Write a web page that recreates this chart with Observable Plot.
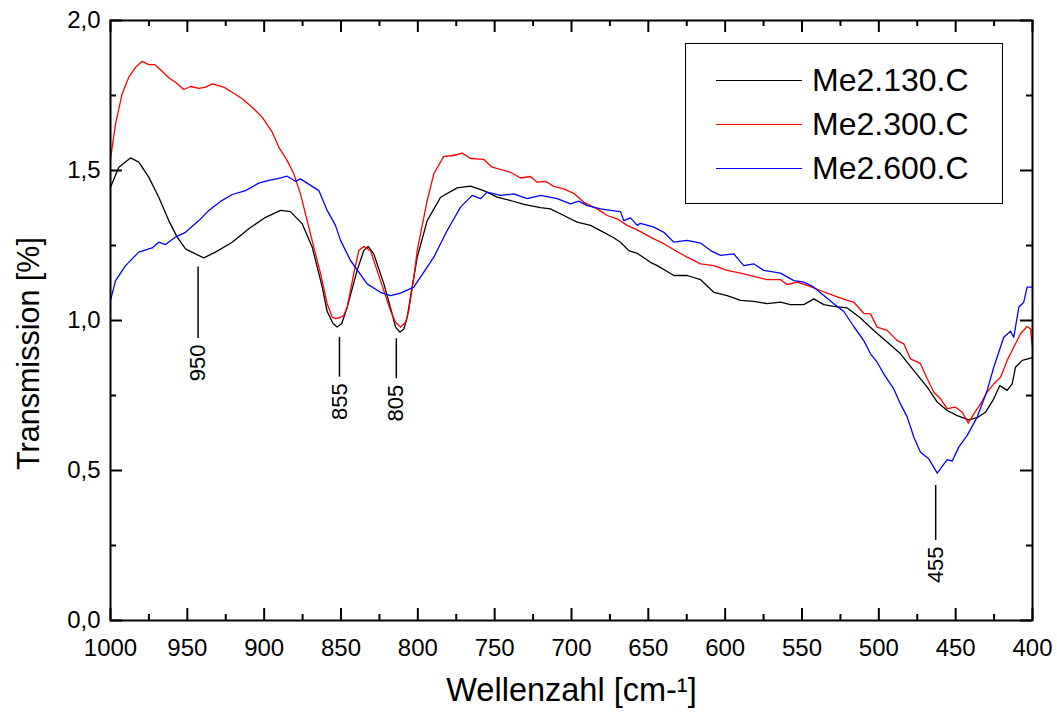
<!DOCTYPE html>
<html>
<head>
<meta charset="utf-8">
<script src="https://cdn.jsdelivr.net/npm/d3@7"></script>
<script src="https://cdn.jsdelivr.net/npm/@observablehq/plot@0.6"></script>
<style>
  body { margin: 0; background: #fff; font-family: "Liberation Sans", Arial, sans-serif; }
  #wrap { position: relative; width: 1057px; height: 719px; }
  #legend { position: absolute; left: 685px; top: 43px; width: 318px; height: 161px;
            border: 1.5px solid #000; box-sizing: border-box; background: #fff; }
  .row { position: absolute; left: 0; width: 100%; height: 0; }
  .swatch { position: absolute; left: 30px; width: 86px; top: 0; border-top: 1.3px solid; }
  .lab { position: absolute; left: 126px; top: -19px; font-size: 32px; line-height: 38px; white-space: nowrap; color: #000; }
</style>
</head>
<body>
<div id="wrap"></div>
<script>
// IR transmission spectra, wavenumber axis runs from 1000 down to 400 cm-1
const seriesNames = ["Me2.130.C", "Me2.300.C", "Me2.600.C"];
const seriesColors = ["#000000", "#ff0000", "#0000ff"];

// [wavenumber, transmission]
const me130 = [[1000,1.444],[994.6,1.511],[987,1.542],[981.6,1.528],[975.1,1.478],[968.6,1.411],[962.1,1.333],[956.6,1.278],[951.2,1.239],[944.7,1.222],[939.3,1.209],[931.7,1.228],[920.8,1.261],[910,1.306],[899.1,1.344],[889.4,1.367],[882.9,1.363],[875.2,1.322],[868.7,1.244],[862.2,1.111],[859,1.03],[855.2,0.99],[852.5,0.978],[849.5,0.99],[846,1.044],[839.5,1.167],[835.2,1.233],[832.3,1.247],[828.7,1.222],[822.1,1.122],[816.7,1.022],[814.5,0.978],[811.7,0.961],[809.1,0.972],[806.9,1.011],[804.8,1.078],[800.4,1.211],[793.9,1.333],[785.2,1.411],[774.4,1.442],[765.7,1.448],[757.1,1.433],[748.4,1.411],[739.7,1.4],[731,1.387],[720.2,1.376],[713.7,1.372],[705,1.35],[696.3,1.328],[687.6,1.317],[679,1.294],[672.5,1.276],[668.1,1.261],[662.7,1.233],[657.2,1.224],[648.6,1.194],[644.2,1.183],[633.4,1.15],[624.7,1.15],[616,1.136],[607.4,1.094],[598.7,1.083],[590,1.067],[581.4,1.064],[572.6,1.056],[564,1.061],[557.5,1.053],[548.8,1.053],[542.3,1.072],[535.8,1.053],[529.3,1.047],[520.6,1.042],[511.9,1.008],[503.3,0.967],[494.6,0.928],[485.9,0.889],[477.2,0.833],[468.5,0.778],[462,0.728],[455.5,0.7],[449,0.683],[441.4,0.669],[436,0.676],[430.6,0.694],[425.2,0.739],[421.3,0.783],[416.5,0.767],[413.2,0.789],[411.1,0.844],[406.7,0.867],[400,0.876]];

const me300 = [[1000,1.539],[996.7,1.656],[992.4,1.756],[988.1,1.811],[983.7,1.844],[979.4,1.864],[975.1,1.853],[971.2,1.853],[966.4,1.831],[962.1,1.809],[957.7,1.794],[952.3,1.77],[947.9,1.78],[942.5,1.774],[938.2,1.778],[933.8,1.789],[926.3,1.778],[920.8,1.761],[914.3,1.739],[907.8,1.711],[901.3,1.678],[894.8,1.628],[890.5,1.578],[885,1.533],[880.7,1.489],[876.4,1.422],[872,1.333],[867.7,1.244],[863.3,1.156],[859,1.056],[855.7,1.011],[853.6,1.006],[850.5,1.01],[848.2,1.017],[846,1.044],[841.7,1.156],[838.4,1.233],[835.2,1.247],[830.8,1.233],[824.3,1.133],[817.8,1.033],[814.5,0.994],[811.3,0.978],[808,0.994],[805.9,1.033],[802.6,1.144],[800.4,1.233],[793.9,1.4],[789.6,1.489],[783.1,1.547],[776.6,1.55],[771.1,1.558],[765.7,1.54],[757.1,1.537],[751.6,1.511],[739.7,1.494],[733.2,1.475],[726.7,1.48],[722.3,1.461],[716.9,1.464],[711.5,1.447],[705,1.439],[698.5,1.424],[692,1.394],[683.3,1.372],[676.8,1.35],[670.3,1.339],[663.8,1.317],[657.2,1.302],[646.4,1.272],[639.9,1.256],[633.4,1.236],[624.7,1.211],[616,1.189],[607.4,1.183],[598.7,1.167],[590,1.158],[581.4,1.147],[572.6,1.136],[564,1.136],[559.6,1.12],[553.1,1.128],[546.6,1.117],[538,1.1],[529.3,1.083],[520.6,1.067],[516.3,1.061],[509.8,1.024],[505.4,1.022],[501.1,0.978],[494.6,0.967],[488,0.933],[483.7,0.922],[479.4,0.872],[472.9,0.856],[468.5,0.806],[464.2,0.761],[459.9,0.739],[455.5,0.706],[450.1,0.711],[445.7,0.694],[441.8,0.658],[438.2,0.689],[433.8,0.722],[429.5,0.761],[425.2,0.789],[420.8,0.811],[416.5,0.867],[412.2,0.911],[407.8,0.956],[403.5,0.98],[401.3,0.972],[400,0.911]];

const me600 = [[1000,1.067],[996.7,1.133],[990.2,1.183],[981.6,1.228],[972.9,1.242],[968.6,1.261],[964.2,1.253],[957.7,1.278],[951.2,1.294],[942.5,1.333],[936,1.367],[928.4,1.397],[920.8,1.42],[912.1,1.433],[903.5,1.458],[897,1.467],[890.5,1.474],[885,1.481],[879.6,1.464],[876.4,1.472],[864.4,1.433],[859,1.367],[853.6,1.317],[850.3,1.267],[843.8,1.2],[833,1.122],[824.3,1.094],[817.8,1.083],[811.3,1.091],[802.6,1.111],[789.6,1.211],[780.9,1.3],[772.2,1.378],[764.6,1.417],[759.2,1.406],[754.9,1.428],[746.2,1.417],[737.5,1.422],[728.8,1.406],[720.2,1.417],[709.3,1.406],[700.7,1.389],[695.2,1.398],[689.8,1.383],[681.1,1.372],[674.6,1.367],[668.1,1.363],[666,1.333],[661.6,1.342],[657.2,1.317],[655.1,1.324],[646.4,1.311],[639.9,1.294],[633.4,1.261],[624.7,1.267],[616,1.258],[609.5,1.233],[603,1.217],[594.4,1.222],[587.9,1.183],[581.4,1.189],[574.9,1.167],[564,1.158],[555.3,1.133],[548.8,1.128],[542.3,1.111],[535.8,1.083],[529.3,1.056],[522.8,1.03],[516.3,0.98],[509.8,0.933],[505.4,0.889],[501.1,0.861],[496.8,0.822],[490.3,0.772],[485.9,0.722],[481.5,0.678],[477.2,0.611],[472.9,0.561],[467.5,0.539],[462,0.491],[455.5,0.536],[452.3,0.531],[448,0.578],[442.5,0.617],[436,0.678],[429.5,0.767],[425.2,0.844],[418.7,0.944],[414.3,0.964],[412.2,0.944],[408.9,1.044],[405.7,1.061],[403.5,1.111],[400,1.111]];

// Band annotations: marker position, marker extent and printed band value
const bandAt = [943, 851, 814, 463];
const bandTop = [1.178, 0.944, 0.939, 0.45];
const bandBottom = [0.94, 0.811, 0.806, 0.267];
const bandText = ["950", "855", "805", "455"];

// Axis ticks
const xMajor = [1000, 950, 900, 850, 800, 750, 700, 650, 600, 550, 500, 450, 400];
const xMinor = [975, 925, 875, 825, 775, 725, 675, 625, 575, 525, 475, 425];
const yMajor = [0, 0.5, 1.0, 1.5, 2.0];
const yMinor = [0.25, 0.75, 1.25, 1.75];

const W = 1057, H = 719;
const M = {top: 20, right: 25, bottom: 99, left: 110};
const innerW = W - M.left - M.right;
const innerH = H - M.top - M.bottom;
const font = '"Liberation Sans", Arial, sans-serif';

const rows = [me130, me300, me600].flatMap((s, i) =>
  s.map(([wn, t]) => ({series: seriesNames[i], wn, t})));
const bands = bandAt.map((at, i) => ({at, top: bandTop[i], bottom: bandBottom[i], label: bandText[i]}));
const comma = d => d.toFixed(1).replace(".", ",");

const chart = Plot.plot({
  width: W,
  height: H,
  marginTop: M.top, marginRight: M.right, marginBottom: M.bottom, marginLeft: M.left,
  style: {fontFamily: font, background: "white", color: "black", overflow: "visible"},
  x: {domain: [1000, 400]},
  y: {domain: [0, 2]},
  color: {domain: seriesNames, range: seriesColors},
  marks: [
    // curves
    Plot.line(rows, {x: "wn", y: "t", z: "series", stroke: "series", strokeWidth: 1.3}),
    // band markers
    Plot.ruleX(bands, {x: "at", y1: "top", y2: "bottom", stroke: "black", strokeWidth: 1.5}),
    Plot.text(bands, {x: "at", y: "bottom", text: "label", rotate: -90, textAnchor: "end", dy: 6, fontSize: 22, fill: "black"}),
    // inward ticks on all four sides
    Plot.tickX(xMajor, {insetTop: innerH - 12, strokeWidth: 2}),
    Plot.tickX(xMinor, {insetTop: innerH - 6, strokeWidth: 2}),
    Plot.tickX(xMajor, {insetBottom: innerH - 12, strokeWidth: 2}),
    Plot.tickX(xMinor, {insetBottom: innerH - 6, strokeWidth: 2}),
    Plot.tickY(yMajor, {insetRight: innerW - 12, strokeWidth: 2}),
    Plot.tickY(yMinor, {insetRight: innerW - 6, strokeWidth: 2}),
    Plot.tickY(yMajor, {insetLeft: innerW - 12, strokeWidth: 2}),
    Plot.tickY(yMinor, {insetLeft: innerW - 6, strokeWidth: 2}),
    Plot.frame({strokeWidth: 2, stroke: "black"}),
    // tick labels
    Plot.axisX({ticks: xMajor, anchor: "bottom", tickSize: 0, tickPadding: 18, tickFormat: d => String(d), fontSize: 24, label: null}),
    Plot.axisY({ticks: yMajor, anchor: "left", tickSize: 0, tickPadding: 10, tickFormat: comma, fontSize: 24, label: null}),
    // axis titles
    Plot.text(["Transmission [%]"], {text: d => d, frameAnchor: "left", textAnchor: "middle", dx: -81, dy: 33, rotate: -90, fontSize: 30.5, fill: "black"}),
    Plot.text(["Wellenzahl [cm-\u00B9]"], {text: d => d, frameAnchor: "bottom", textAnchor: "middle", dy: 80, fontSize: 32.5, fill: "black"})
  ]
});

const wrap = document.getElementById("wrap");
wrap.appendChild(chart);

// legend box inside the plot area
const legend = document.createElement("div");
legend.id = "legend";
seriesNames.forEach((name, i) => {
  const row = document.createElement("div");
  row.className = "row";
  row.style.top = (36 + i * 44) + "px";
  const sw = document.createElement("div");
  sw.className = "swatch";
  sw.style.borderTopColor = seriesColors[i];
  const lab = document.createElement("div");
  lab.className = "lab";
  lab.textContent = name;
  row.appendChild(sw);
  row.appendChild(lab);
  legend.appendChild(row);
});
wrap.appendChild(legend);
</script>
</body>
</html>
